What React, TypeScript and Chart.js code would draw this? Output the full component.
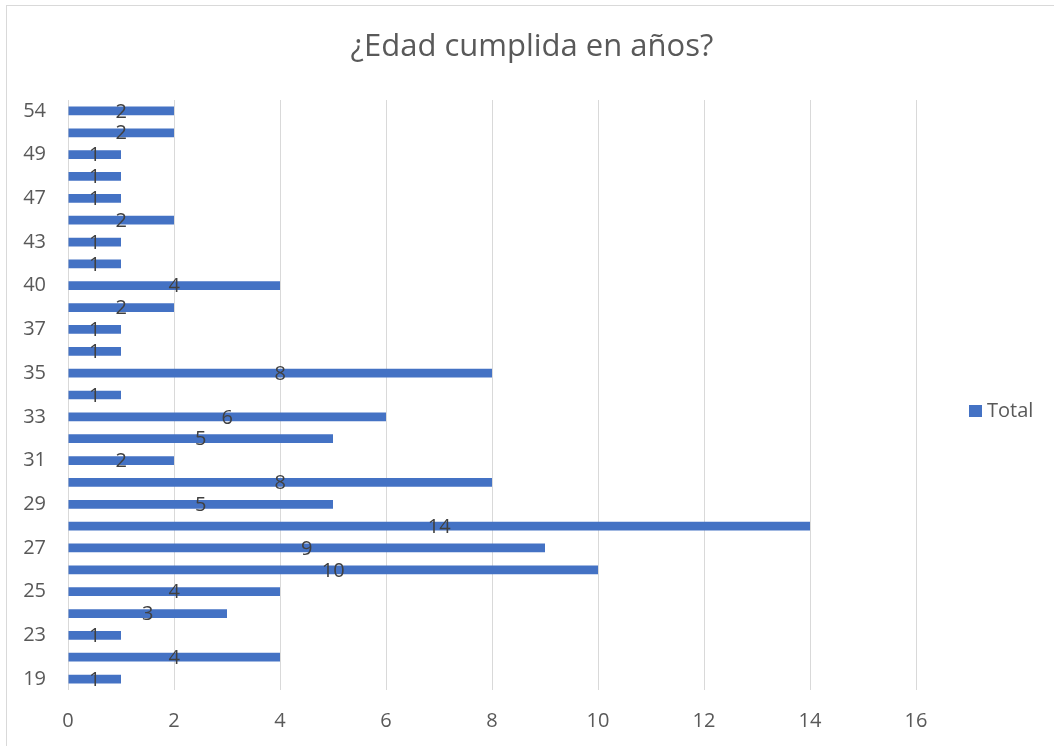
import React, { useEffect, useRef } from "react";
import { Chart, registerables } from "chart.js";

Chart.register(...registerables);

// Age in completed years and how many people answered each one
const ages = [
  "19", "21", "23", "24", "25", "26", "27", "28", "29", "30", "31", "32", "33", "34",
  "35", "36", "37", "38", "40", "42", "43", "45", "47", "48", "49", "52", "54",
];
const totals = [
  1, 4, 1, 3, 4, 10, 9, 14, 5, 8, 2, 5, 6, 1, 8, 1, 1, 2, 4, 1, 1, 2, 1, 1, 1, 2, 2,
];
const xTicks = [0, 2, 4, 6, 8, 10, 12, 14, 16];

const TITLE = "¿Edad cumplida en años?";
const SERIES = "Total";
const BAR_COLOR = "#4472C4";
const FONT = "'Open Sans', 'Liberation Sans', sans-serif";

// White background and the light frame around the chart
const framePlugin = {
  id: "frame",
  beforeDraw(chart: any) {
    const { ctx, width, height } = chart;
    ctx.save();
    ctx.fillStyle = "#ffffff";
    ctx.fillRect(0, 0, width, height);
    ctx.strokeStyle = "#d9d9d9";
    ctx.lineWidth = 1;
    ctx.strokeRect(6.5, 5.5, width + 20, height + 20);
    ctx.restore();
  },
};

// Title text and a single legend entry on the right
const headerPlugin = {
  id: "header",
  afterDraw(chart: any) {
    const { ctx } = chart;
    ctx.save();
    ctx.fillStyle = "#595959";
    ctx.font = `31px ${FONT}`;
    ctx.textAlign = "center";
    ctx.textBaseline = "middle";
    ctx.fillText(TITLE, 532, 47);

    ctx.fillStyle = BAR_COLOR;
    ctx.fillRect(969, 405, 13, 12);
    ctx.fillStyle = "#595959";
    ctx.font = `20px ${FONT}`;
    ctx.textAlign = "left";
    ctx.fillText(chart.data.datasets[0].label, 987, 411);
    ctx.restore();
  },
};

// Value written in the middle of each bar
const valueLabelPlugin = {
  id: "valueLabels",
  afterDatasetsDraw(chart: any) {
    const { ctx } = chart;
    ctx.save();
    ctx.fillStyle = "#404040";
    ctx.font = `20px ${FONT}`;
    ctx.textAlign = "center";
    ctx.textBaseline = "middle";
    chart.data.datasets.forEach((ds: any, di: number) => {
      const meta = chart.getDatasetMeta(di);
      meta.data.forEach((bar: any, i: number) => {
        const { x, base, y } = bar.getProps(["x", "base", "y"], true);
        ctx.fillText(String(ds.data[i]), (x + base) / 2, y + 1);
      });
    });
    ctx.restore();
  },
};

export default function App() {
  const canvasRef = useRef<HTMLCanvasElement | null>(null);

  useEffect(() => {
    if (!canvasRef.current) return;
    const chart = new Chart(canvasRef.current, {
      type: "bar",
      data: {
        labels: ages,
        datasets: [
          {
            label: SERIES,
            data: totals,
            backgroundColor: BAR_COLOR,
            borderWidth: 0,
            barPercentage: 1,
            categoryPercentage: 0.4,
          },
        ],
      },
      options: {
        indexAxis: "y",
        animation: false,
        responsive: false,
        devicePixelRatio: 1,
        layout: { padding: { left: 0, top: 100, right: 138, bottom: 0 } },
        plugins: {
          legend: { display: false },
          title: { display: false },
          tooltip: { enabled: false },
        },
        scales: {
          x: {
            type: "linear",
            min: xTicks[0],
            max: xTicks[xTicks.length - 1],
            afterBuildTicks: (scale: any) => {
              scale.ticks = xTicks.map((v) => ({ value: v }));
            },
            grid: { color: "#d9d9d9", lineWidth: 1, drawTicks: false },
            border: { display: false },
            ticks: {
              color: "#595959",
              font: { family: FONT, size: 20 },
              padding: 19,
            },
            afterFit: (scale: any) => {
              scale.height = 56;
            },
          },
          y: {
            type: "category",
            reverse: true,
            grid: { display: false, drawTicks: false },
            border: { display: false },
            ticks: {
              autoSkip: false,
              color: "#595959",
              font: { family: FONT, size: 20 },
              padding: 22,
              callback: (_v: any, index: number) => (index % 2 === 0 ? ages[index] : ""),
            },
            afterFit: (scale: any) => {
              scale.width = 68;
            },
          },
        },
      },
      plugins: [framePlugin, headerPlugin, valueLabelPlugin],
    });
    return () => chart.destroy();
  }, []);

  return (
    <div style={{ position: "fixed", left: 0, top: 0, width: 1054, height: 746, background: "#fff" }}>
      <canvas ref={canvasRef} width={1054} height={746} style={{ display: "block" }} />
    </div>
  );
}
